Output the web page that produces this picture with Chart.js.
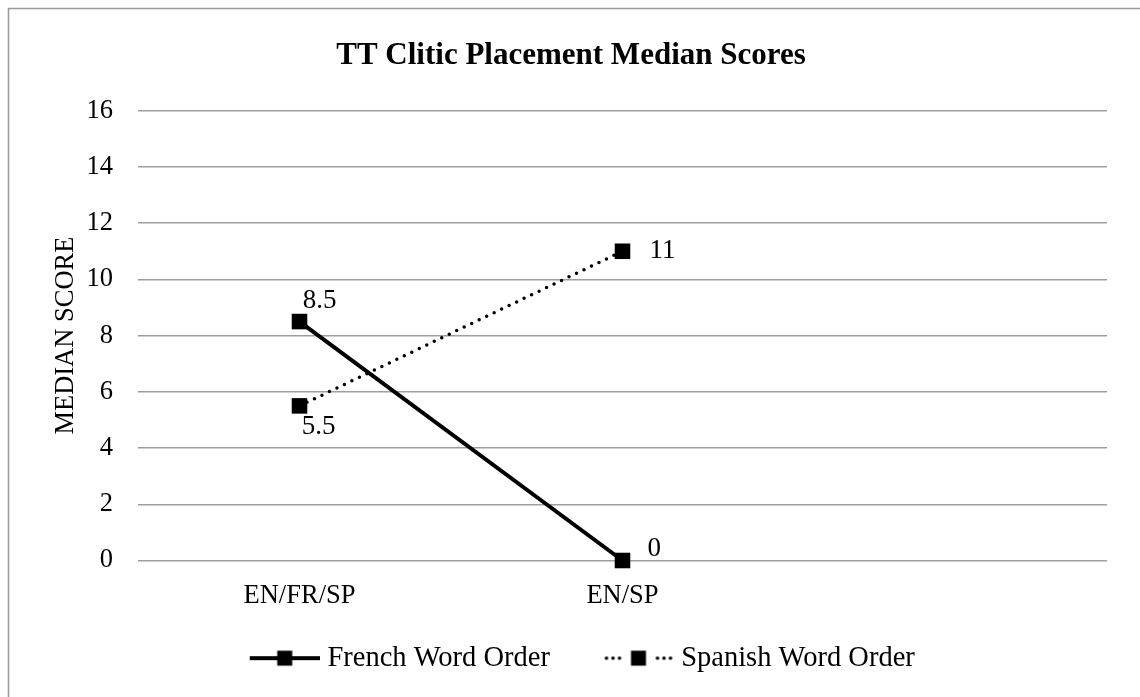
<!DOCTYPE html>
<html>
<head>
<meta charset="utf-8">
<title>TT Clitic Placement Median Scores</title>
<script src="https://cdn.jsdelivr.net/npm/chart.js@4.4.1/dist/chart.umd.min.js"></script>
<style>
  html, body { margin: 0; padding: 0; background: #fff; }
  #wrap { width: 1140px; height: 697px; }
</style>
</head>
<body>
<div id="wrap"><canvas id="chart" width="1140" height="697"></canvas></div>
<script>
// chart data
const categories = ['EN/FR/SP', 'EN/SP', ''];
const frenchOrder = [8.5, 0, null];
const spanishOrder = [5.5, 11, null];
const yTickMin = 0;
const yTickMax = 16;
const yTickStep = 2;

const serif = '"Liberation Serif", "Times New Roman", serif';
Chart.defaults.font.family = serif;
Chart.defaults.color = '#000';

// white page + thin grey frame (top/left edges visible)
const framePlugin = {
    id: 'frame',
    beforeDraw(chart) {
        const ctx = chart.ctx;
        ctx.save();
        ctx.fillStyle = '#fff';
        ctx.fillRect(0, 0, chart.width, chart.height);
        ctx.strokeStyle = '#9a9a9a';
        ctx.lineWidth = 1.5;
        ctx.strokeRect(8.5, 8.5, chart.width + 20, chart.height + 20);
        ctx.restore();
    }
};

// value labels next to each point
const valueLabels = {
    id: 'valueLabels',
    afterDatasetsDraw(chart, args, opts) {
        const ctx = chart.ctx;
        ctx.save();
        ctx.font = opts.size + 'px ' + serif;
        ctx.fillStyle = '#000';
        ctx.textBaseline = 'middle';
        chart.data.datasets.forEach((ds, i) => {
            const meta = chart.getDatasetMeta(i);
            meta.data.forEach((pt, j) => {
                const v = ds.data[j];
                if (v === null || v === undefined) return;
                const p = opts.placement[i][j];
                ctx.textAlign = p.align;
                ctx.fillText(String(v), pt.x + p.dx, pt.y + p.dy);
            });
        });
        ctx.restore();
    }
};

// legend sample: line with a square marker, drawn into a small canvas
function legendSample(dotted) {
    const c = document.createElement('canvas');
    c.width = 99;
    c.height = 20;
    const g = c.getContext('2d');
    const x0 = 29, x1 = 99, cy = 10, mid = (x0 + x1) / 2;
    g.fillStyle = '#000';
    g.strokeStyle = '#000';
    if (dotted) {
        [x0 + 3, x0 + 9.5, x0 + 16, x1 - 16, x1 - 9.5, x1 - 3].forEach(x => {
            g.beginPath();
            g.arc(x, cy, 1.8, 0, Math.PI * 2);
            g.fill();
        });
    } else {
        g.lineWidth = 4;
        g.beginPath();
        g.moveTo(x0, cy);
        g.lineTo(x1, cy);
        g.stroke();
    }
    g.fillRect(mid - 7.5, cy - 7.5, 15, 15);
    return c;
}
const samples = [legendSample(false), legendSample(true)];

const ctx = document.getElementById('chart').getContext('2d');
const chart = new Chart(ctx, {
    type: 'line',
    data: {
        labels: categories,
        datasets: [{
            label: 'French Word Order',
            data: frenchOrder,
            borderColor: '#000',
            backgroundColor: '#000',
            borderWidth: 4,
            pointStyle: 'rect',
            pointRadius: 11,
            pointBackgroundColor: '#000',
            pointBorderWidth: 0,
            tension: 0,
            clip: false
        }, {
            label: 'Spanish Word Order',
            data: spanishOrder,
            borderColor: '#000',
            backgroundColor: '#000',
            borderWidth: 3.5,
            borderDash: [0, 8.3],
            borderCapStyle: 'round',
            pointStyle: 'rect',
            pointRadius: 11,
            pointBackgroundColor: '#000',
            pointBorderWidth: 0,
            tension: 0,
            clip: false
        }]
    },
    options: {
        responsive: false,
        animation: false,
        events: [],
        layout: { padding: { left: 2, right: 0, top: 0, bottom: 14.6 } },
        scales: {
            x: {
                offset: true,
                grid: { display: false, drawTicks: false },
                border: { display: false },
                ticks: { font: { size: 26.5 }, padding: 20, maxRotation: 0 },
                afterFit(scale) { scale.height = 52.4; }
            },
            y: {
                min: yTickMin,
                max: yTickMax,
                grid: { color: '#9e9e9e', lineWidth: 1.5, drawTicks: false },
                border: { display: false },
                ticks: { stepSize: yTickStep, font: { size: 26.5 }, padding: 25 },
                title: {
                    display: true,
                    text: 'MEDIAN SCORE',
                    font: { size: 26.5 },
                    padding: { top: 48, bottom: 4 }
                },
                afterFit(scale) { scale.width = 136; }
            },
            yRight: {
                position: 'right',
                display: true,
                grid: { display: false, drawTicks: false },
                border: { display: false },
                ticks: { display: false },
                afterFit(scale) { scale.width = 33; }
            }
        },
        plugins: {
            title: {
                display: true,
                text: 'TT Clitic Placement Median Scores',
                font: { size: 31, weight: 'bold' },
                padding: { top: 37, bottom: 36.5 }
            },
            legend: {
                position: 'bottom',
                labels: {
                    usePointStyle: true,
                    pointStyleWidth: 86,
                    padding: 31,
                    font: { size: 28.5 },
                    generateLabels(chart) {
                        return chart.data.datasets.map((ds, i) => ({
                            text: ds.label,
                            pointStyle: samples[i],
                            fillStyle: '#000',
                            strokeStyle: '#000',
                            lineWidth: 0,
                            hidden: false,
                            datasetIndex: i
                        }));
                    }
                }
            },
            tooltip: { enabled: false },
            valueLabels: {
                size: 27,
                placement: [
                    [{ dx: 20, dy: -21, align: 'center' }, { dx: 25, dy: -12, align: 'left' }],
                    [{ dx: 19, dy: 21, align: 'center' }, { dx: 27, dy: 0, align: 'left' }]
                ]
            }
        }
    },
    plugins: [framePlugin, valueLabels]
});
</script>
</body>
</html>
